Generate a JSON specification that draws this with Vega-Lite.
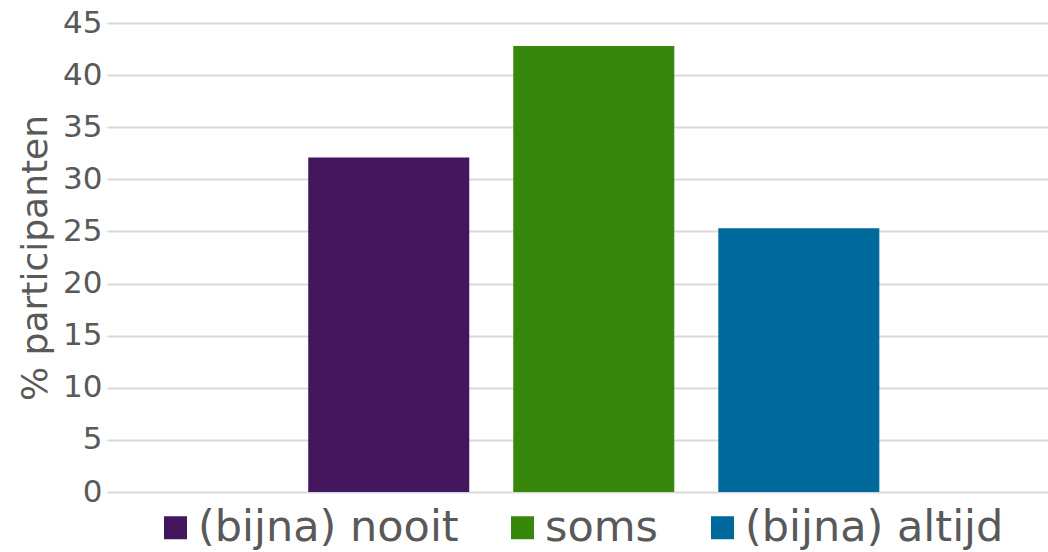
{
  "$schema": "https://vega.github.io/schema/vega-lite/v6.json",
  "width": 941,
  "height": 469,
  "autosize": {"type": "none"},
  "padding": {"left": 107, "top": 23, "right": 0, "bottom": 60},
  "background": "white",
  "config": {
    "view": {"stroke": null},
    "font": "DejaVu Sans"
  },
  "data": {
    "values": [
      {"antwoord": "(bijna) nooit", "pct": 32.1},
      {"antwoord": "soms", "pct": 42.8},
      {"antwoord": "(bijna) altijd", "pct": 25.3}
    ]
  },
  "mark": {"type": "bar"},
  "encoding": {
    "x": {
      "field": "antwoord",
      "type": "nominal",
      "sort": ["(bijna) nooit", "soms", "(bijna) altijd"],
      "scale": {"paddingInner": 0.2146, "paddingOuter": 0.902, "align": 0.544},
      "axis": null
    },
    "y": {
      "field": "pct",
      "type": "quantitative",
      "scale": {"domain": [0, 45], "nice": false},
      "axis": {
        "values": [0, 5, 10, 15, 20, 25, 30, 35, 40, 45],
        "title": "% participanten",
        "titleFont": "DejaVu Sans",
        "titleFontSize": 36,
        "titleFontWeight": "normal",
        "titleColor": "#595959",
        "titlePadding": 8,
        "labelFont": "DejaVu Sans",
        "labelFontSize": 31,
        "labelColor": "#595959",
        "labelPadding": 5,
        "domain": false,
        "ticks": false,
        "grid": true,
        "gridColor": "#d9d9d9",
        "gridWidth": 2
      }
    },
    "color": {
      "field": "antwoord",
      "type": "nominal",
      "scale": {
        "domain": ["(bijna) nooit", "soms", "(bijna) altijd"],
        "range": ["#43165e", "#38870d", "#00699b"]
      },
      "legend": {
        "title": null,
        "orient": "none",
        "direction": "horizontal",
        "legendX": 47,
        "legendY": 483,
        "symbolType": "square",
        "symbolSize": 529,
        "symbolStrokeWidth": 0,
        "labelFont": "DejaVu Sans",
        "labelFontSize": 43,
        "labelColor": "#595959",
        "labelOffset": 1,
        "columnPadding": 42,
        "labelLimit": 500
      }
    }
  }
}
